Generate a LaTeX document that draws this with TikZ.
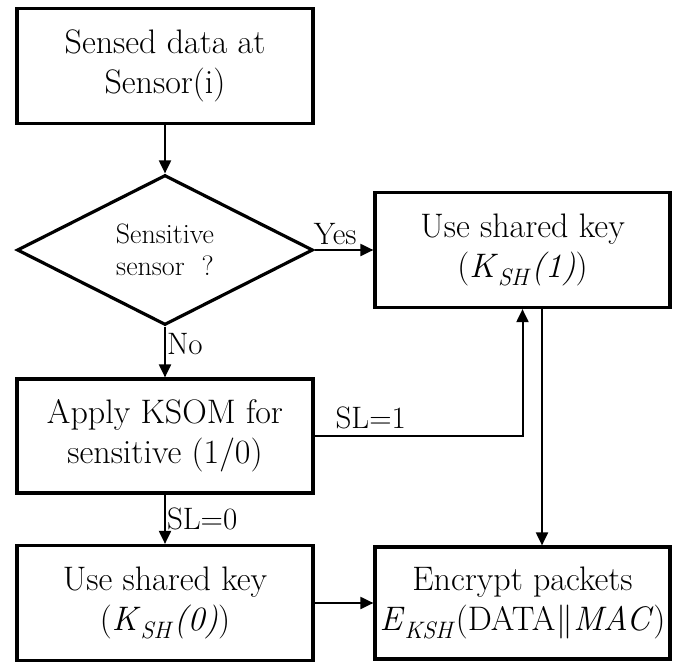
\documentclass[tikz,border=0pt]{standalone}
\usetikzlibrary{shapes.geometric,arrows.meta}

\newcommand{\dbar}{\kern1pt|\kern-3pt|\kern1pt}

\tikzset{
  block/.style={draw, line width=3.2pt, rectangle, align=center,
    minimum width=296pt, minimum height=115pt, inner sep=0pt,
    font=\fontsize{34}{40}\selectfont},
  decide/.style={draw, line width=3.2pt, diamond, align=center,
    minimum width=296pt, minimum height=150pt, inner sep=0pt,
    font=\fontsize{28}{32}\selectfont},
  flow/.style={line width=2pt, -{Triangle[length=13pt, width=12pt]}},
  tag/.style={font=\fontsize{31}{34}\selectfont, inner sep=2pt}
}

\begin{document}
\begin{tikzpicture}[x=1pt, y=-1pt]
\useasboundingbox (0, 0) rectangle (677, 663);

% left column
\node [block] (sensed) at (165, 66) {Sensed data at\\Sensor(i)};
\node [decide] (sens) at (165, 250) {Sensitive\\sensor\ \ ?};
\node [block, minimum height=114pt] (ksom) at (165, 436) {Apply KSOM for\\sensitive (1/0)};
\node [block] (key0) at (165, 603) {Use shared key\\(\textit{K}\textsubscript{\textit{SH}}\textit{(0)})};

% right column
\node [block, minimum width=295pt] (key1) at (522.5, 250) {Use shared key\\(\textit{K}\textsubscript{\textit{SH}}\textit{(1)})};
\node [block, minimum width=295pt, minimum height=112pt] (enc) at (522.5, 603) {Encrypt packets\\\textit{E}\textsubscript{\textit{KSH}}(DATA\dbar\textit{MAC})};

\coordinate (down1) at ([xshift=19.5pt]key1.south);
\coordinate (down2) at ([xshift=19.5pt]enc.north);

% arrows
\draw [flow] (sensed) -- (sens);
\draw [flow] (sens) -- (key1) node [tag, pos=0.35, above, yshift=2pt] {Yes};
\draw [flow] (sens) -- (ksom) node [tag, pos=0.35, right, inner sep=1pt] {No};
\draw [flow] (ksom.east) -| (key1.south) node [tag, pos=0.135, above, yshift=4pt] {SL=1};
\draw [flow] (ksom) -- (key0) node [tag, midway, right, inner sep=1pt] {SL=0};
\draw [flow] (down1) -- (down2);
\draw [flow] (key0) -- (enc);
\end{tikzpicture}
\end{document}
